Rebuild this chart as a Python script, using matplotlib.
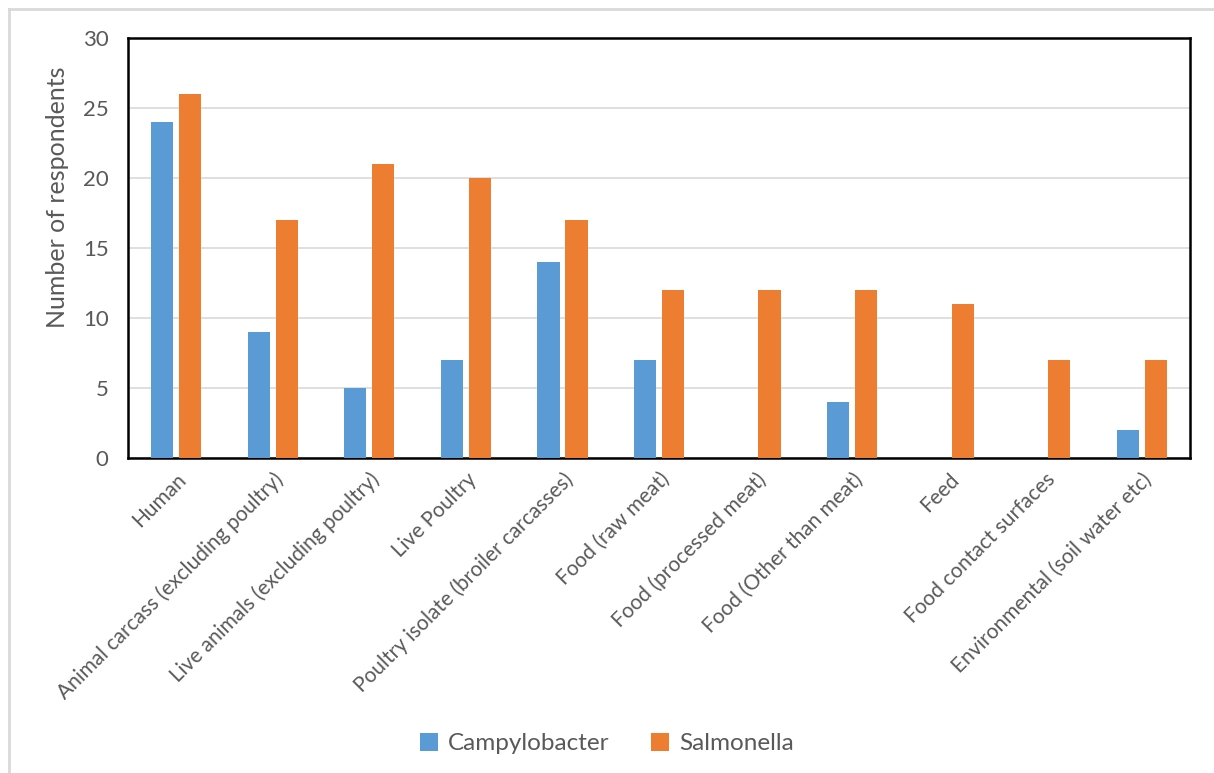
import numpy as np
import matplotlib.pyplot as plt
from matplotlib.lines import Line2D

categories = ['Human', 'Animal carcass (excluding poultry)', 'Live animals (excluding poultry)',
              'Live Poultry', 'Poultry isolate (broiler carcasses)', 'Food (raw meat)',
              'Food (processed meat)', 'Food (Other than meat)', 'Feed',
              'Food contact surfaces', 'Environmental (soil water etc)']
campylobacter = [24, 9, 5, 7, 14, 7, 0, 4, 0, 0, 2]
salmonella = [26, 17, 21, 20, 17, 12, 12, 12, 11, 7, 7]

plt.rcParams['font.family'] = ['Lato', 'DejaVu Sans']
grey_txt = '#595959'

fig = plt.figure(figsize=(12.14, 7.73), dpi=100)
ax = fig.add_axes([128/1214, 1 - 458/773, (1190-128)/1214, (458-38)/773])

x = np.arange(len(categories))
w = 0.23
ax.bar(x - 0.145, campylobacter, w, color='#5b9bd5', label='Campylobacter', zorder=3)
ax.bar(x + 0.145, salmonella, w, color='#ed7d31', label='Salmonella', zorder=3)

ax.set_xlim(-0.5, len(categories) - 0.5)
ax.set_ylim(0, 30)
ax.set_yticks(range(0, 31, 5))
ax.yaxis.grid(True, color='#d9d9d9', linewidth=1.2, zorder=0)
ax.set_xticks(x)
ax.set_xticklabels(categories, rotation=45, ha='right', rotation_mode='anchor')
ax.tick_params(axis='y', length=0, labelsize=16, colors=grey_txt, pad=14)
ax.tick_params(axis='x', length=0, labelsize=15, colors=grey_txt, pad=8)
for s in ax.spines.values():
    s.set_color('black')
    s.set_linewidth(1.8)
ax.set_ylabel('Number of respondents', fontsize=18, color=grey_txt)
ax.yaxis.set_label_coords(-0.056, 0.62)

fig.legend(loc='lower center', bbox_to_anchor=(0.5, -0.004), ncol=2, frameon=False,
           fontsize=17.5, labelcolor=grey_txt, handlelength=0.75, handleheight=0.75,
           columnspacing=1.7, handletextpad=0.4)

# light outer chart border
fig.add_artist(Line2D([9/1214, 1], [1 - 9/773, 1 - 9/773], color='#d9d9d9', linewidth=2,
                      transform=fig.transFigure))
fig.add_artist(Line2D([9/1214, 9/1214], [0, 1 - 9/773], color='#d9d9d9', linewidth=2,
                      transform=fig.transFigure))

fig.savefig('out.png', dpi=100)
